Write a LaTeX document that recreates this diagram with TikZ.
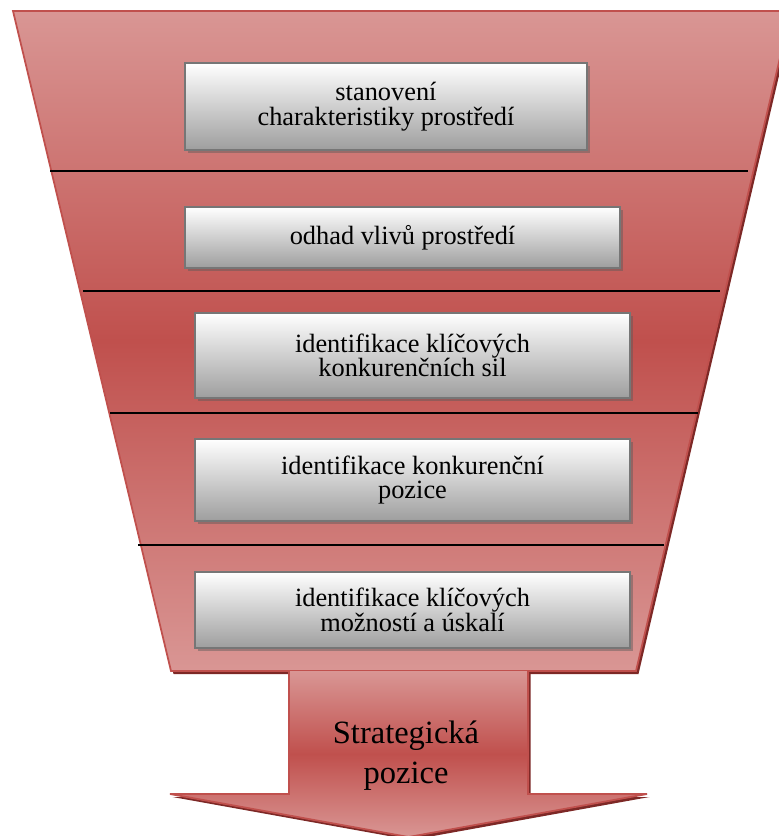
\documentclass[tikz,border=0pt]{standalone}
\usepackage{fontspec}
\setmainfont{Liberation Serif}
\usetikzlibrary{shadows}

\definecolor{funnellight}{RGB}{217,150,148}
\definecolor{funneldark}{RGB}{192,80,77}
\definecolor{funnelshadow}{RGB}{125,40,38}
\definecolor{boxborder}{RGB}{118,118,118}
\definecolor{boxbottom}{RGB}{158,158,158}

\tikzset{
    stagebox/.style={draw=boxborder, line width=1.1pt, top color=white, bottom color=boxbottom,
        minimum width=8.7cm, align=center, font=\fontsize{15}{14}\selectfont,
        drop shadow={shadow xshift=0.05cm, shadow yshift=-0.06cm, fill=gray!70!black, opacity=0.45}},
    redshade/.style={top color=funnellight, bottom color=funnellight, middle color=funneldark},
    redshadow/.style={drop shadow={shadow xshift=0.05cm, shadow yshift=-0.06cm, fill=funnelshadow, opacity=1}},
    separator/.style={black, line width=0.7pt}
}

\begin{document}
\begin{tikzpicture}
    \useasboundingbox (0,0) rectangle (15.56,-16.72);

    %Define the funnel
    \draw[funneldark, line width=1pt, redshade, redshadow] (0.26,-0.22) -- (15.82,-0.22) -- (12.72,-13.42) -- (3.42,-13.42) -- cycle;

    % Add the lines between the steps
    \draw[separator] (1.0,-3.42) -- (14.96,-3.42);
    \draw[separator] (1.66,-5.82) -- (14.4,-5.82);
    \draw[separator] (2.2,-8.26) -- (13.96,-8.26);
    \draw[separator] (2.76,-10.9) -- (13.28,-10.9);

    % Add the arrow below the funnel
    \fill[redshade, redshadow] (5.78,-13.42) -- (10.56,-13.42) -- (10.56,-15.88) -- (12.94,-15.88) -- (8.17,-16.74) -- (3.40,-15.88) -- (5.78,-15.88) -- cycle;
    \draw[funneldark, line width=1pt] (5.78,-13.42) -- (5.78,-15.88) -- (3.40,-15.88) -- (8.17,-16.74) -- (12.94,-15.88) -- (10.56,-15.88) -- (10.56,-13.42);

    % Add the steps
    \node[stagebox, minimum width=8.04cm, minimum height=1.74cm] (stanoveni) at (7.72,-2.13) {stanovení\\charakteristiky prostředí};
    \node[stagebox, minimum height=1.22cm] (odhad) at (8.05,-4.75) {odhad vlivů prostředí};
    \node[stagebox, minimum height=1.7cm] (sily) at (8.25,-7.11) {identifikace klíčových\\konkurenčních sil};
    \node[stagebox, minimum height=1.64cm] (pozice) at (8.25,-9.6) {identifikace konkurenční\\pozice};
    \node[stagebox, minimum height=1.52cm] (moznosti) at (8.25,-12.2) {identifikace klíčových\\možností a úskalí};

    % Add the result in the arrow
    \node[align=center, font=\fontsize{18.5}{22.8}\selectfont] (strategie) at (8.12,-15.12) {Strategická\\pozice};
\end{tikzpicture}
\end{document}
